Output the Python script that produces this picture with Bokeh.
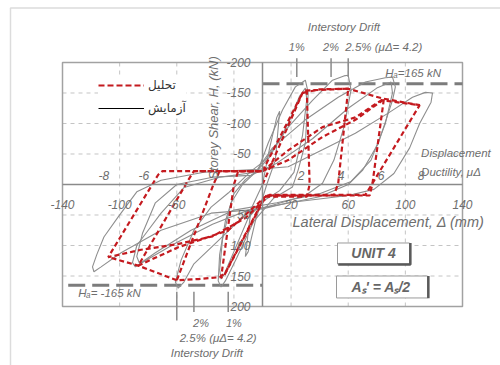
from bokeh.plotting import figure
from bokeh.models import FixedTicker, Label, Legend, LegendItem, Range1d
from bokeh.embed import file_html
from bokeh.resources import INLINE

# ---------------- data ----------------
x_ticks = [-140, -100, -60, -20, 20, 60, 100, 140]
x_tick_text = ["-140", "-100", "-60", "", "20", "60", "100", "140"]
y_ticks = [-200, -150, -100, -50, 50, 100, 150, 200]
y_tick_text = ["200", "150", "100", "50", "-50", "-100", "-150", "-200"]
x_grid = [-100, -60, -20, 20, 60, 100]
y_grid = [-150, -100, -50, 50, 100, 150]

H_a = 165                       # kN
drift_text = ["1%", "2%"]
drift_mm = [24, 48, 60]         # 1 %, 2 %, 2.5 % drift
duct_text = ["-8", "-6", "2", "4", "6", "8"]
duct_mm = [-111, -83, 27, 55, 83, 111]

# experimental loops (mm, kN)
exp_c0_x = [0, 5, 10, 12, 9, 3, -5, -10, -12, -8, 0]
exp_c0_y = [0, 60, 110, 120, 40, 0, -60, -110, -118, -40, 0]
exp_c1_x = [-3, 4, 14, 23, 30, 32, 30, 25, 21, 8, -6, -18, -26, -29, -31, -30, -26, -20, -12, -3]
exp_c1_y = [24, 68, 122, 160, 171, 150, 68, 24, -4, -22, -60, -120, -158, -168, -158, -115, -60, -15, 8, 24]
exp_c1b_x = [-5, 5, 18, 26, 30, 31, 28, 22, 12, 0, -10, -20, -27, -29, -30, -28, -22, -14, -5]
exp_c1b_y = [20, 45, 100, 145, 158, 140, 80, 20, -10, -28, -55, -110, -148, -155, -140, -90, -30, 0, 20]
exp_c2_x = [-8, 2, 18, 35, 49, 57, 60, 62, 57, 50, 42, 30, 10, -10, -30, -48, -55, -59, -61, -57, -48, -36, -24, -8]
exp_c2_y = [22, 40, 94, 138, 171, 178, 179, 155, 94, 40, 2, -18, -32, -45, -90, -130, -160, -170, -160, -124, -75, -37, -14, 22]
exp_c3_x = [-5, 7, 30, 53, 72, 86, 91, 93, 91, 81, 70, 60, 40, 15, -10, -35, -60, -80, -89, -91, -88, -80, -71, -55, -30, -5]
exp_c3_y = [20, 60, 106, 143, 168, 175, 176, 160, 138, 67, 23, 0, -20, -32, -42, -65, -95, -122, -135, -128, -100, -75, -47, -5, 12, 20]
exp_c3b_x = [-8, 10, 35, 60, 80, 90, 91, 86, 76, 62, 40, 10, -20, -50, -75, -86, -88, -84, -75, -60, -35, -8]
exp_c3b_y = [15, 35, 75, 125, 158, 168, 150, 100, 40, 5, -15, -30, -42, -75, -112, -130, -118, -80, -30, 0, 12, 15]
exp_c4_x = [-3, 18, 42, 65, 88, 105, 114, 119, 118, 110, 103, 92, 78, 60, 18, 0, -36, -71, -99, -113, -118, -119, -116, -111, -101, -88, -71, -41, -3]
exp_c4_y = [25, 29, 57, 84, 117, 143, 151, 150, 135, 100, 60, 18, -8, -18, -30, -40, -47, -75, -112, -135, -143, -135, -115, -86, -53, -12, 7, 20, 25]
exp_loops = [(exp_c0_x, exp_c0_y), (exp_c1_x, exp_c1_y), (exp_c1b_x, exp_c1b_y),
             (exp_c2_x, exp_c2_y), (exp_c3_x, exp_c3_y), (exp_c3b_x, exp_c3b_y),
             (exp_c4_x, exp_c4_y)]

# analytical loops (mm, kN)
ana_c1_x = [0, 28, 31, 33, 31, 2, -27, -29, -20, -17, 0]
ana_c1_y = [0, 150, 154, 0, -20, -20, -150, -153, 0, 22, 22]
ana_c2_x = [0, 28, 40, 60, 53, 50, 2, -26, -30, -45, -60, -34, -30, 0]
ana_c2_y = [22, 150, 156, 157, 2, -18, -18, -145, -152, -155, -157, 2, 22, 22]
ana_c3_x = [0, 18, 42, 65, 85, 77, 75, 3, -24, -59, -87, -52, -48, 0]
ana_c3_y = [22, 56, 94, 110, 141, 2, -18, -18, -75, -103, -133, 7, 22, 22]
ana_c4_x = [0, 18, 42, 65, 84, 110, 77, 72, 5, -12, -35, -60, -85, -108, -73, -70, 0]
ana_c4_y = [22, 40, 78, 106, 138, 130, 2, -17, -17, -55, -85, -98, -107, -119, 16, 22, 22]
ana_env_x = [30, 60, 84, 110]
ana_env_y = [154, 157, 141, 130]
ana_envn_x = [-60, -87, -108]
ana_envn_y = [-157, -133, -119]
ana_loops = [(ana_c1_x, ana_c1_y), (ana_c2_x, ana_c2_y), (ana_c3_x, ana_c3_y),
             (ana_c4_x, ana_c4_y), (ana_env_x, ana_env_y), (ana_envn_x, ana_envn_y)]

# ---------------- style ----------------
RED = "#c41a1f"
GREY = "#8e8e8e"
TXT = "#6e6e6e"
FONT = "Liberation Sans"
X0, X1, Y0, Y1 = -140, 140, -200, 200

p = figure(width=500, height=365, output_backend="svg", toolbar_location=None,
           x_range=Range1d(-183.4, 166.6), y_range=Range1d(-296.7, 301.6),
           min_border=0, x_axis_location="below", y_axis_location="left")
p.outline_line_color = None
p.background_fill_color = "white"
p.border_fill_color = "white"
p.grid.visible = False

# axes crossing at the origin
p.xaxis.fixed_location = 0
p.yaxis.fixed_location = 0
p.xaxis.ticker = FixedTicker(ticks=x_ticks)
p.yaxis.ticker = FixedTicker(ticks=y_ticks)
p.xaxis.major_label_overrides = dict(zip(x_ticks, x_tick_text))
p.yaxis.major_label_overrides = dict(zip(y_ticks, y_tick_text))
p.xaxis.bounds = (X0, X1)
p.yaxis.bounds = (Y0, Y1)
for ax in (p.xaxis, p.yaxis):
    ax.axis_line_color = "#8a8a8a"
    ax.axis_line_width = 1.5
    ax.major_tick_line_color = None
    ax.minor_tick_line_color = None
    ax.major_label_text_font = FONT
    ax.major_label_text_font_style = "italic"
    ax.major_label_text_font_size = "12px"
    ax.major_label_text_color = TXT
p.xaxis.major_label_standoff = 10
p.yaxis.major_label_standoff = 6

# dashed grid inside the box
p.segment(x0=x_grid, y0=[Y0] * len(x_grid), x1=x_grid, y1=[Y1] * len(x_grid),
          line_color="#c4c4c4", line_dash="4 4", line_width=1)
p.segment(x0=[X0] * len(y_grid), y0=y_grid, x1=[X1] * len(y_grid), y1=y_grid,
          line_color="#c4c4c4", line_dash="4 4", line_width=1)

# scan border
p.line([-176.4, -176.4, 166.6], [-296.7, 289.3, 289.3], line_color="#dcdcdc", line_width=1.5)
# plot box
p.quad(left=[X0], right=[X1], bottom=[Y0], top=[Y1], fill_color=None,
       line_color="#a2a2a2", line_width=1.5)

# allowable-strength lines
p.line([0, X1], [H_a, H_a], line_color="#7c7c7c", line_width=3, line_dash="17 7")
p.line([X0 + 4, 0], [-H_a, -H_a], line_color="#7c7c7c", line_width=3, line_dash="17 7")

# drift ticks
p.segment(x0=drift_mm, y0=[207] * 3, x1=drift_mm, y1=[176] * 3, line_color="#8a8a8a", line_width=1.5)
p.segment(x0=[-d for d in drift_mm], y0=[-176] * 3, x1=[-d for d in drift_mm],
          y1=[-209, -209, -223], line_color="#8a8a8a", line_width=1.5)

# loops
for lx, ly in exp_loops:
    p.line(lx, ly, line_color=GREY, line_width=1.1)
for lx, ly in ana_loops:
    p.line(lx, ly, line_color=RED, line_width=2.2, line_dash="5 3")

# legend samples (kept outside the visible range)
r_ana = p.line([-900, -890], [0, 0], line_color=RED, line_width=2, line_dash="6 3")
r_exp = p.line([-900, -890], [0, 0], line_color="black", line_width=1)
leg = Legend(items=[LegendItem(label="تحلیل", renderers=[r_ana]),
                    LegendItem(label="آزمایش", renderers=[r_exp])],
             location=(98, 249), border_line_color=None, background_fill_alpha=1,
             label_text_font="DejaVu Sans", label_text_font_size="12px",
             label_text_color="#333333", glyph_width=46, glyph_height=16,
             spacing=7, padding=8, margin=0, label_standoff=4)
p.add_layout(leg)


def lab(x, y, text, size="11px", align="left", baseline="middle", angle=0,
        style="italic", color=TXT):
    p.add_layout(Label(x=x, y=y, text=text, text_font=FONT, text_font_size=size,
                       text_align=align, text_baseline=baseline, angle=angle,
                       text_font_style=style, text_color=color))


# ductility labels
for t, xm in zip(duct_text, duct_mm):
    lab(xm, 15, t, size="12px", align="center")
lab(111, 52, "Displacement", size="11.5px")
lab(111, 21, "Ductility, μΔ", size="11.5px")

lab(-34, 109, "Storey Shear, H, (kN)", size="13px", align="center", angle=1.5708)
lab(21, -61, "Lateral Displacement, Δ (mm)", size="14.5px")

# drift labels top
lab(57, 258, "Interstory Drift", size="11.5px", align="center")
lab(drift_mm[0], 225, drift_text[0], size="11px", align="center")
lab(drift_mm[1], 225, drift_text[1], size="11px", align="center")
lab(58, 225, "2.5% (μΔ= 4.2)", size="11.5px")
# drift labels bottom
lab(-drift_mm[1] + 5, -227, drift_text[1], size="11px", align="center")
lab(-drift_mm[0] + 4, -227, drift_text[0], size="11px", align="center")
lab(-31, -252, "2.5% (μΔ= 4.2)", size="11.5px", align="center")
lab(-39, -276, "Interstory Drift", size="11.5px", align="center")

# H_a labels
lab(86, 183, "Hₐ=165 kN", size="11.5px")
lab(-129, -178, "Hₐ= -165 kN", size="11.5px")

# boxes
p.quad(left=[52.5], right=[102.9], bottom=[-130.3], top=[-95.9], fill_color="white",
       line_color="#9a9a9a", line_width=1)
p.line([103.5, 103.5, 53], [-96, -131, -131], line_color="#5a5a5a", line_width=2.5)
lab(77.7, -113, "UNIT 4", size="14px", align="center", style="bold italic", color="#666666")
p.quad(left=[51.8], right=[115.5], bottom=[-186], top=[-150], fill_color="white",
       line_color="#9a9a9a", line_width=1)
p.line([116.1, 116.1], [-150, -186.5], line_color="#5a5a5a", line_width=2.5)
lab(83, -168, "Aₛ' = Aₛ/2", size="14px", align="center", style="bold italic", color="#666666")

open("out.html", "w").write(file_html(p, INLINE))
